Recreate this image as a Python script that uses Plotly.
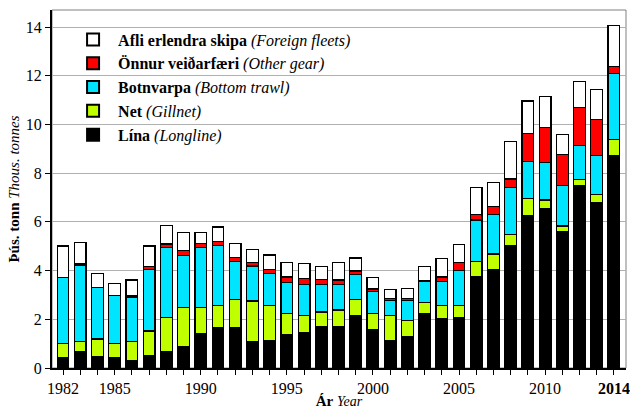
import plotly.graph_objects as go

years = list(range(1982, 2015))
lina = [0.41, 0.67, 0.48, 0.44, 0.29, 0.50, 0.68, 0.86, 1.42, 1.64, 1.67, 1.07, 1.12, 1.37, 1.44, 1.68, 1.70,
        2.16, 1.57, 1.12, 1.30, 2.22, 2.02, 2.07, 3.75, 4.06, 5.02, 6.24, 6.54, 5.61, 7.48, 6.80, 8.74]
net = [0.58, 0.43, 0.71, 0.57, 0.79, 1.02, 1.40, 1.62, 1.07, 0.92, 1.13, 1.68, 1.44, 0.88, 0.72, 0.62, 0.68,
       0.66, 0.68, 1.03, 0.64, 0.46, 0.54, 0.49, 0.61, 0.62, 0.47, 0.71, 0.36, 0.22, 0.26, 0.34, 0.65]
botnvarpa = [2.73, 3.13, 2.12, 1.97, 1.81, 2.54, 2.88, 2.13, 2.46, 2.47, 1.56, 1.44, 1.33, 1.27, 1.28, 1.12, 1.06,
             1.03, 0.90, 0.63, 0.84, 0.86, 0.98, 1.46, 1.72, 1.63, 1.93, 1.52, 1.53, 1.67, 1.40, 1.60, 2.70]
onnur = [0.00, 0.05, 0.00, 0.00, 0.07, 0.10, 0.13, 0.23, 0.17, 0.17, 0.18, 0.13, 0.17, 0.22, 0.24, 0.22, 0.17,
         0.13, 0.09, 0.08, 0.06, 0.06, 0.20, 0.30, 0.23, 0.31, 0.34, 1.15, 1.46, 1.28, 1.56, 1.47, 0.28]
erlend = [1.29, 0.87, 0.58, 0.48, 0.65, 0.85, 0.77, 0.73, 0.44, 0.59, 0.58, 0.55, 0.58, 0.58, 0.62, 0.52, 0.73,
          0.54, 0.48, 0.37, 0.43, 0.57, 0.75, 0.76, 1.11, 0.99, 1.55, 1.34, 1.25, 0.80, 1.07, 1.24, 1.68]

series = [
    ("<b>Lína</b> <i>(Longline)</i>", lina, "#000000"),
    ("<b>Net</b> <i>(Gillnet)</i>", net, "#bfff00"),
    ("<b>Botnvarpa</b> <i>(Bottom trawl)</i>", botnvarpa, "#00e5ff"),
    ("<b>Önnur veiðarfæri</b> <i>(Other gear)</i>", onnur, "#ff0000"),
    ("<b>Afli erlendra skipa</b> <i>(Foreign fleets)</i>", erlend, "#ffffff"),
]

labeled = {1982, 1985, 1990, 1995, 2000, 2005, 2010}
ticktext = [("<b>2014</b>" if y == 2014 else (str(y) if y in labeled else "")) for y in years]

fig = go.Figure()
for name, vals, col in series:
    fig.add_trace(go.Bar(x=years, y=vals, name=name, width=0.68,
                         marker=dict(color=col, line=dict(color="#000000", width=1.2))))

font = "Liberation Serif"
fig.update_layout(
    barmode="stack",
    width=630, height=409,
    margin=dict(l=52, r=4, t=10, b=41),
    plot_bgcolor="white", paper_bgcolor="white",
    font=dict(family=font, size=16, color="#000"),
    showlegend=True,
    legend=dict(x=0.028, y=0.965, xanchor="left", yanchor="top", traceorder="reversed",
                bgcolor="rgba(255,255,255,0)", font=dict(family=font, size=16), itemsizing="constant",
                tracegroupgap=0, itemwidth=40),
    xaxis=dict(range=[1981.36, 2014.7], tickmode="array", tickvals=years, ticktext=ticktext,
               ticks="outside", ticklen=5, tickcolor="#000", showgrid=False, showline=True,
               linecolor="#000", linewidth=1.5, zeroline=False, tickangle=0, automargin=False,
               tickfont=dict(family="Liberation Serif, serif", size=16),
               title=dict(text="<b>Ár</b> <i><span style='font-size:14px'>Year</span></i>",
                          font=dict(family=font, size=15), standoff=2)),
    yaxis=dict(range=[0, 14.7], tickvals=[0, 2, 4, 6, 8, 10, 12, 14], ticks="outside", ticklen=5,
               tickcolor="#000", showgrid=True, gridcolor="#b0b0b0", gridwidth=1, showline=True,
               linecolor="#000", linewidth=2, zeroline=False, automargin=False,
               tickfont=dict(family="Liberation Serif, serif", size=16),
               title=dict(text="<b>Þús. tonn</b> <i><span style='font-size:15px'>Thous. tonnes</span></i>",
                          font=dict(family=font, size=15), standoff=3)),
    shapes=[dict(type="rect", xref="paper", yref="paper", x0=0, y0=0, x1=1, y1=1,
                 line=dict(color="#808080", width=1), layer="below")],
)
fig.write_html("out.html", config={"displayModeBar": False},
               post_script="document.body.style.margin='0';document.body.style.overflow='hidden';")
